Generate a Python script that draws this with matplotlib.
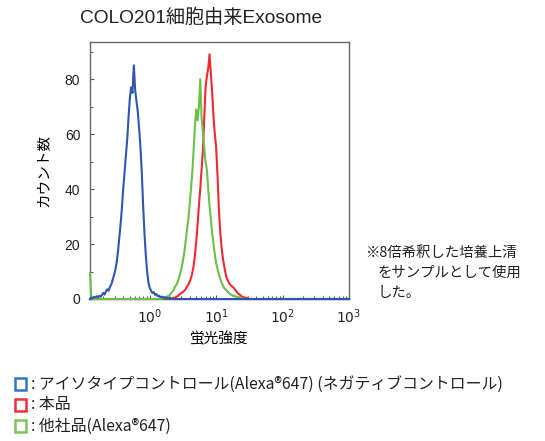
import numpy as np
import matplotlib
matplotlib.use("Agg")
import matplotlib.pyplot as plt
from matplotlib.patches import Rectangle

plt.rcParams["font.family"] = ["Liberation Sans", "Noto Sans CJK JP", "DejaVu Sans"]

# histogram channels: log10(intensity), 0.02 per channel across the plotted range
LOG_MIN, LOG_MAX, STEP = -0.90, 3.00, 0.02

# isotype control (blue), counts starting at log10 = -0.90
iso_start = -0.90
iso_counts = [0, 0.5, 0.3, 0.8, 0.5, 1.0, 0.6, 1.2, 0.8, 1.5, 2.2, 1.6, 2.8, 3.5, 3.0,
              4.5, 5.2, 6.8, 8.5, 10.5, 13, 17, 22, 27, 33, 40, 46, 52, 58, 66,
              73, 77, 75, 85, 76, 72, 68, 62, 55, 46, 34, 24, 16, 10, 6,
              4, 3, 2.2, 2.5, 1.5, 1.8, 1.0, 1.2, 0.6, 0.9, 0.5, 0.7, 0.3, 0.5, 0.2,
              0.4, 0]

# this product (red), counts starting at log10 = 0.34
prod_start = 0.34
prod_counts = [0.3, 0.5, 0.4, 0.8, 1.0, 1.5, 1.8, 2.2, 2.6, 3.0, 3.6, 4.5, 5.2, 6.2, 7.5,
               9.5, 12, 16, 21, 27, 34, 40, 47, 54, 66, 77, 81, 84, 89, 82,
               75, 66, 60, 55, 45, 33, 25, 19, 15, 12, 9.5, 7.5, 6.5, 5.5, 5.0,
               4.5, 4.2, 3.5, 3.0, 2.2, 1.8, 1.5, 1.0, 0.8, 0.6, 0.4, 0.5, 0.2, 0]

# competitor product (green), counts starting at log10 = 0.20
comp_start = 0.20
comp_counts = [0.3, 0.6, 0.4, 1.0, 0.8, 1.5, 2.0, 2.6, 3.2, 4.5, 5.0, 6.2, 7.5, 9.5, 11.5,
               14, 17, 21, 25, 29, 34, 40, 46, 54, 63, 69, 65, 70, 80, 66,
               61, 55, 50, 47, 40, 34, 29, 24, 20, 16, 13, 11, 9, 7.5, 6,
               5, 4, 3.5, 3, 2.5, 2.0, 1.6, 1.5, 1.0, 1.2, 0.7, 0.5, 0.8, 0.4, 0.5,
               0.2, 0]
# events piled up in the first channel
comp_edge = [9.5, 0.5]

xticks = [1, 10, 100, 1000]
xticklabels = [r"$10^0$", r"$10^1$", r"$10^2$", r"$10^3$"]
yticks = [0, 20, 40, 60, 80]

legend_items = [
    ("#2f75c0", ": アイソタイプコントロール(Alexa®647) (ネガティブコントロール)"),
    ("#e8313a", ": 本品"),
    ("#7cc45a", ": 他社品(Alexa®647)"),
]
note_lines = ["※8倍希釈した培養上清", "をサンプルとして使用", "した。"]

channels = np.round(np.arange(LOG_MIN, LOG_MAX + STEP / 2, STEP), 2)


def full_trace(start, counts):
    y = np.zeros(len(channels))
    i0 = int(round((start - LOG_MIN) / STEP))
    y[i0:i0 + len(counts)] = counts
    return y


iso = full_trace(iso_start, iso_counts)
prod = full_trace(prod_start, prod_counts)
comp = full_trace(comp_start, comp_counts)
comp[:len(comp_edge)] = comp_edge
x = 10 ** channels

fig = plt.figure(figsize=(5.45, 4.41), dpi=100)
ax = fig.add_axes([90 / 545, 1 - 299 / 441, 259 / 545, 257 / 441])

ax.plot(x, prod, color="#ee2a33", lw=1.5, clip_on=False, zorder=2)
ax.plot(x, comp, color="#6cc04a", lw=1.5, clip_on=False, zorder=3)
ax.plot(x, iso, color="#2f55b0", lw=1.5, clip_on=False, zorder=4)

ax.set_xscale("log")
ax.set_xlim(10 ** LOG_MIN, 1000)
ax.set_ylim(0, 93.5)
ax.set_xticks(xticks)
ax.set_xticklabels(xticklabels)
ax.set_yticks(yticks)
ax.set_yticks([10, 30, 50, 70, 90], minor=True)
ax.tick_params(which="both", direction="in", colors="#555555", labelcolor="#222222",
               labelsize=10)
ax.tick_params(which="major", length=3, width=0.8)
ax.tick_params(which="minor", length=2, width=0.7)
ax.tick_params(axis="x", pad=6)
ax.tick_params(axis="y", pad=7)
for s in ax.spines.values():
    s.set_color("#666666")
    s.set_linewidth(1.0)

ax.set_xlabel("蛍光強度", fontsize=10.5, family=["Noto Sans CJK JP"], labelpad=4)
ax.set_ylabel("カウント数", fontsize=10.5, family=["Noto Sans CJK JP"], labelpad=10)

fig.text(80 / 545, 1 - 18 / 441, "COLO201細胞由来Exosome", fontsize=13.8,
         ha="left", va="center", color="#222222")

for i, line in enumerate(note_lines):
    xpos = 365 if i == 0 else 378
    fig.text(xpos / 545, 1 - (253 + 20 * i) / 441, line, fontsize=10.4,
             ha="left", va="center", color="#222222",
             family=["Noto Sans CJK JP", "DejaVu Sans"])

for i, (col, label) in enumerate(legend_items):
    yc = 384 + 21 * i
    fig.patches.append(Rectangle((15 / 545, 1 - (yc + 6) / 441), 11 / 545, 12 / 441,
                                 transform=fig.transFigure, fill=False,
                                 edgecolor=col, linewidth=1.8))
    fig.text(31 / 545, 1 - yc / 441, label, fontsize=11.4, ha="left", va="center",
             color="#222222", family=["Noto Sans CJK JP", "DejaVu Sans"])

fig.savefig("out.png", dpi=100)
